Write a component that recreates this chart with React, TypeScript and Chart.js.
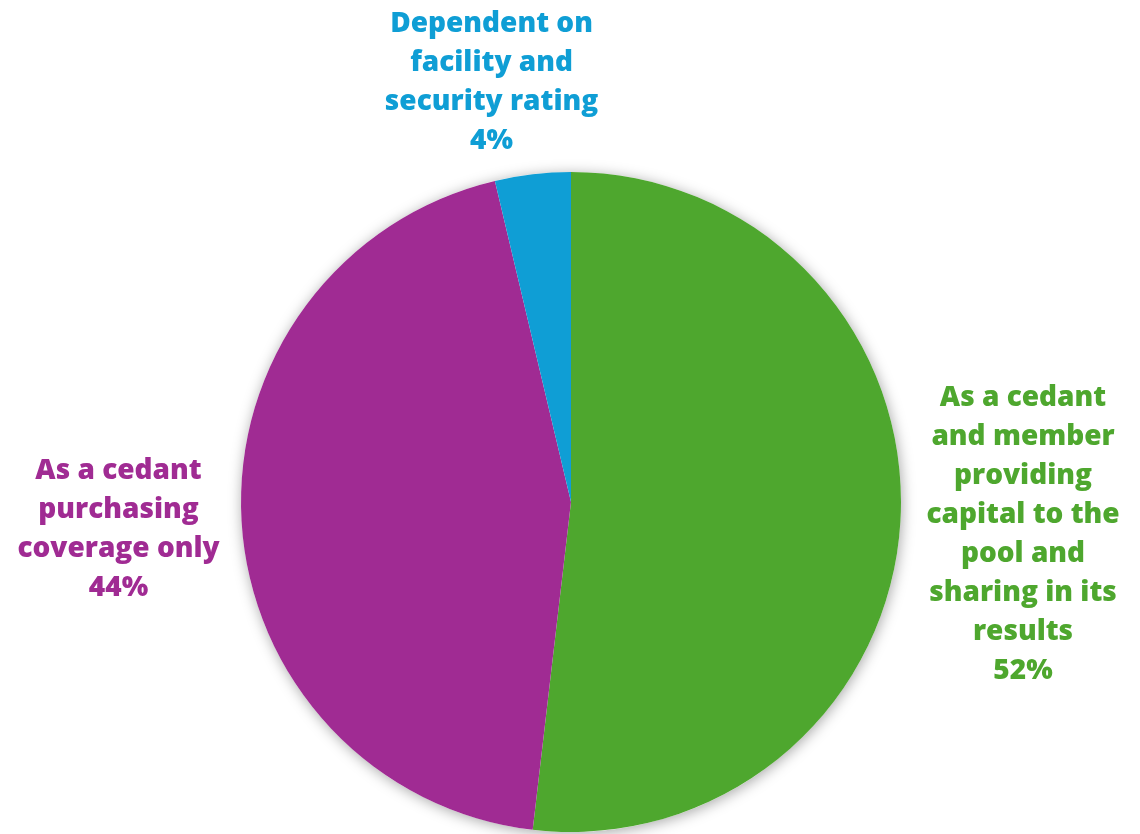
import React, { useEffect, useRef } from "react";
import { Chart, registerables } from "chart.js";

Chart.register(...registerables);

const categories = [
  ["As a cedant", "and member", "providing", "capital to the", "pool and", "sharing in its", "results"],
  ["As a cedant", "purchasing", "coverage only"],
  ["Dependent on", "facility and", "security rating"],
];
const counts = [14, 12, 1];
const colors = ["#4EA72E", "#A02B93", "#0F9ED5"];
const percentLabels = ["52%", "44%", "4%"];

const FONT = "800 28px 'Open Sans', sans-serif";
const LINE_H = 39;

const shadowPlugin = {
  id: "pieShadow",
  beforeDatasetsDraw(chart: any) {
    const meta = chart.getDatasetMeta(0);
    const arc = meta.data[0];
    if (!arc) return;
    const { x, y, outerRadius } = arc.getProps(["x", "y", "outerRadius"], true);
    const ctx = chart.ctx;
    ctx.save();
    ctx.shadowColor = "rgba(0,0,0,0.35)";
    ctx.shadowBlur = 14;
    ctx.shadowOffsetX = 1;
    ctx.shadowOffsetY = 2;
    ctx.fillStyle = "#ffffff";
    ctx.beginPath();
    ctx.arc(x, y, outerRadius, 0, Math.PI * 2);
    ctx.fill();
    ctx.restore();
  },
};

const labelPlugin = {
  id: "outsideLabels",
  afterDatasetsDraw(chart: any) {
    const ctx = chart.ctx;
    const meta = chart.getDatasetMeta(0);
    const nudges = [
      { dx: -1, dy: 12 },
      { dx: 5, dy: 7 },
      { dx: -38, dy: 13 },
    ];
    meta.data.forEach((arc: any, i: number) => {
      const { x, y, startAngle, endAngle, outerRadius } = arc.getProps(
        ["x", "y", "startAngle", "endAngle", "outerRadius"],
        true
      );
      const mid = (startAngle + endAngle) / 2;
      const R = outerRadius + 27;
      const px = x + Math.cos(mid) * R;
      const py = y + Math.sin(mid) * R;
      const lines = [...categories[i], percentLabels[i]];
      ctx.save();
      ctx.font = FONT;
      ctx.fillStyle = colors[i];
      ctx.textAlign = "center";
      ctx.textBaseline = "middle";
      const widths = lines.map((l) => ctx.measureText(l).width);
      const maxW = Math.max(...widths);
      const blockH = lines.length * LINE_H;
      let cxBlock = px;
      let topBlock = py - blockH / 2;
      const cosM = Math.cos(mid);
      const sinM = Math.sin(mid);
      if (Math.abs(sinM) > Math.abs(cosM)) {
        if (sinM < 0) topBlock = py - blockH;
        else topBlock = py;
      } else if (cosM > 0) {
        cxBlock = px + maxW / 2;
      } else {
        cxBlock = px - maxW / 2;
      }
      cxBlock += nudges[i].dx;
      topBlock += nudges[i].dy;
      lines.forEach((l, k) => {
        ctx.fillText(l, cxBlock, topBlock + LINE_H * k + LINE_H / 2);
      });
      ctx.restore();
    });
  },
};

export default function App() {
  const ref = useRef<HTMLCanvasElement | null>(null);
  useEffect(() => {
    document.body.style.margin = "0";
    if (!ref.current) return;
    const chart = new Chart(ref.current, {
      type: "pie",
      data: {
        labels: categories.map((c) => c.join(" ")),
        datasets: [
          {
            data: counts,
            backgroundColor: colors,
            borderWidth: 0,
          },
        ],
      },
      options: {
        animation: false,
        responsive: true,
        maintainAspectRatio: false,
        layout: { padding: { top: 172, bottom: 2, left: 241, right: 239 } },
        plugins: {
          legend: { display: false },
          tooltip: { enabled: false },
        },
      },
      plugins: [shadowPlugin, labelPlugin],
    });
    return () => chart.destroy();
  }, []);
  return (
    <div style={{ position: "absolute", left: 0, top: 0, width: 1140, height: 834, background: "#fff" }}>
      <canvas ref={ref} />
    </div>
  );
}
